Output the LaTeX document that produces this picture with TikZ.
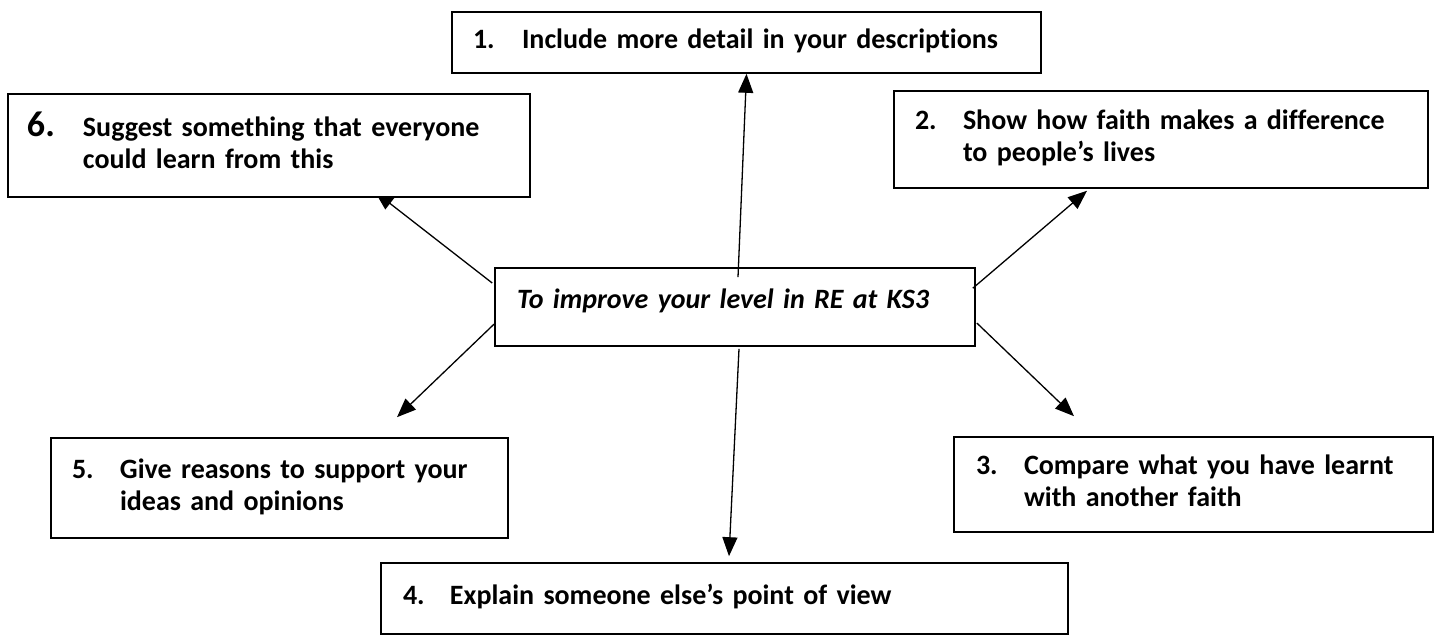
\documentclass[tikz,border=0pt]{standalone}
\usepackage{fontspec}
\setmainfont{Carlito}[Ligatures=NoCommon]
\usetikzlibrary{arrows.meta,backgrounds}

% number in a fixed column, text lines aligned after it
\newcommand{\numline}[3]{\makebox[#1][l]{#2}\begin{tabular}[t]{@{}l@{}}#3\end{tabular}}

\begin{document}
\begin{tikzpicture}[x=1pt, y=-1pt,
    >={Triangle[length=19pt,width=15pt]},
    box/.style={draw, line width=1.6pt, fill=white, inner xsep=21pt, inner ysep=0pt,
                align=left, font=\fontsize{28}{32}\selectfont\bfseries},
    arr/.style={->, line width=1.3pt}
  ]
  \useasboundingbox (0,0) rectangle (1436,635);

  % centre
  \node[box, inner xsep=22pt, text width=436pt, minimum height=78pt,
        text height=20pt, text depth=18pt] (centre) at (735,307)
        {\itshape To improve your level in RE at KS3};

  % the six targets
  \node[box, text width=547pt, minimum height=61pt] (b1) at (746.5,42.5)
        {\numline{49pt}{1.}{Include more detail in your descriptions}};
  \node[box, text width=492pt, minimum height=97pt] (b2) at (1161,139.5)
        {\numline{48pt}{2.}{Show how faith makes a difference\\to people’s lives}};
  \node[box, inner xsep=22pt, text width=435pt, minimum height=95pt] (b3) at (1193.5,484.5)
        {\numline{48pt}{3.}{Compare what you have learnt\\with another faith}};
  \node[box, inner xsep=22pt, text width=643pt, minimum height=71pt] (b4) at (724.5,598.5)
        {\numline{47pt}{4.}{Explain someone else’s point of view}};
  \node[box, text width=415pt, minimum height=100pt] (b5) at (279.5,488)
        {\numline{48pt}{5.}{Give reasons to support your\\ideas and opinions}};
  \node[box, inner xsep=19pt, text width=484pt, minimum height=103pt] (b6) at (269,145.5)
        {\numline{56pt}{\fontsize{36}{36}\selectfont 6.}{Suggest something that everyone\\could learn from this}};

  % arrows out of the centre
  \draw[arr] ([xshift=3pt,yshift=-10pt]centre.north) -- (b1.south);
  \draw[arr] ([xshift=-3pt,yshift=-21pt]centre.north east) -- ([xshift=-74pt,yshift=-2pt]b2.south);
  \draw[arr] ([xshift=1pt,yshift=-16pt]centre.east) -- ([xshift=-119.5pt,yshift=20pt]b3.north);
  \draw[arr] ([xshift=4pt,yshift=-2pt]centre.south) -- ([xshift=4.5pt,yshift=6pt]b4.north);
  \draw[arr] ([yshift=-17pt]centre.west) -- ([xshift=117.5pt,yshift=20pt]b5.north);
  \begin{scope}[on background layer]
    \draw[arr] ([xshift=-2pt,yshift=24pt]centre.west) -- ([xshift=106pt,yshift=6pt]b6.south);
  \end{scope}
\end{tikzpicture}
\end{document}
